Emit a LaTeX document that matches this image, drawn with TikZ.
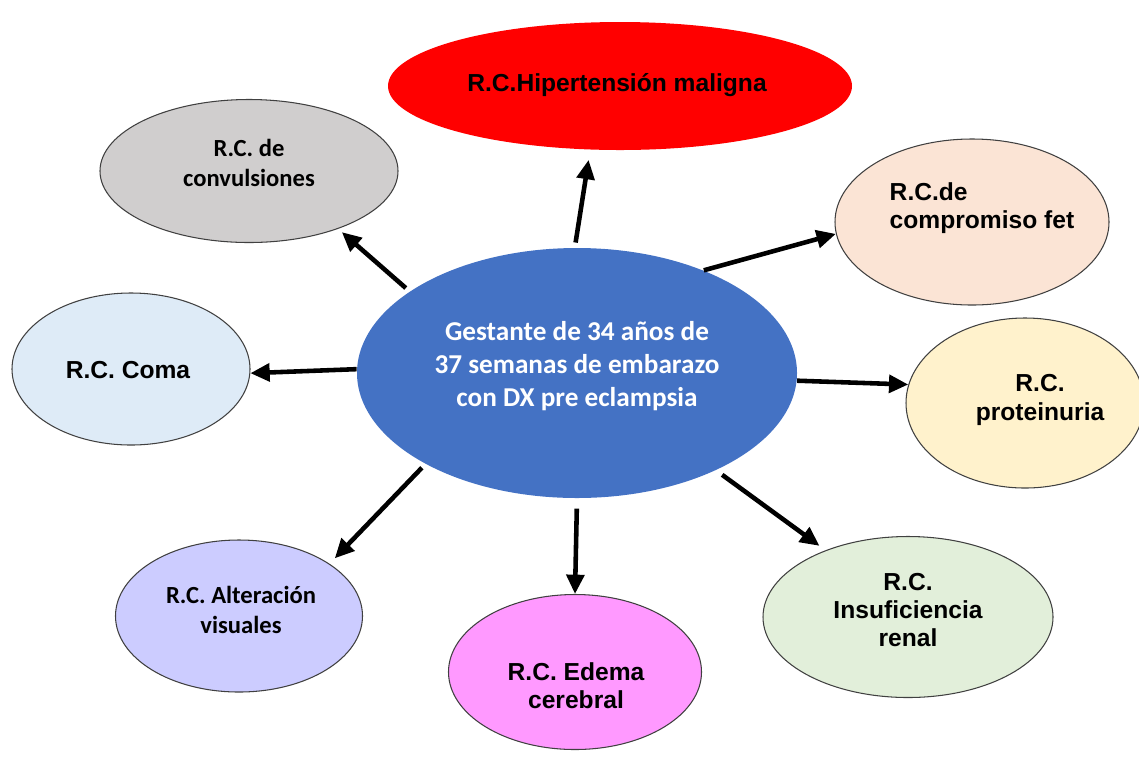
\documentclass[tikz,border=0pt]{standalone}
\usepackage{fontspec}
\setmainfont{Liberation Sans}
\newfontfamily\calibri{Carlito}
\usepackage{tikz}
\usetikzlibrary{shapes.geometric}
\usetikzlibrary{arrows.meta}
\definecolor{centreblue}{RGB}{68,114,196}
\definecolor{convgray}{RGB}{208,206,206}
\definecolor{fetpeach}{RGB}{251,228,213}
\definecolor{comablue}{RGB}{222,235,247}
\definecolor{protyellow}{RGB}{255,242,204}
\definecolor{renalgreen}{RGB}{226,239,218}
\definecolor{edemapink}{RGB}{255,153,255}
\definecolor{visualviolet}{RGB}{204,204,255}
\tikzset{
	bubblestyle/.style={ellipse,draw=black!75,line width=0.6pt,inner sep=0pt},
	textstyle/.style={align=center,inner sep=0pt,font=\bfseries\fontsize{14}{16}\selectfont},
	calibristyle/.style={textstyle,font=\calibri\bfseries\fontsize{14}{17}\selectfont},
	centrestyle/.style={calibristyle,text=white,font=\calibri\bfseries\fontsize{15.5}{18.7}\selectfont},
	linkstyle/.style={-{Triangle[length=11pt,width=10pt]},line width=2.6pt}
}
\begin{document}
\begin{tikzpicture}[x=0.2mm,y=-0.2mm]
	\useasboundingbox (0,0) rectangle (1139,761);
	% ellipses
	\node[bubblestyle,draw=none,fill=centreblue,minimum width=88mm,minimum height=50mm] (gest) at (577,373) {};
	\node[bubblestyle,draw=none,fill=red,minimum width=92.8mm,minimum height=25.6mm] (hip) at (620,86) {};
	\node[bubblestyle,fill=convgray,minimum width=59.6mm,minimum height=28.6mm] (conv) at (249,171) {};
	\node[bubblestyle,fill=fetpeach,minimum width=54.8mm,minimum height=33.2mm] (fet) at (972,222) {};
	\node[bubblestyle,fill=comablue,minimum width=47.6mm,minimum height=30.4mm] (coma) at (131,369) {};
	\node[bubblestyle,fill=protyellow,minimum width=47.6mm,minimum height=34mm] (prot) at (1025,403) {};
	\node[bubblestyle,fill=renalgreen,minimum width=58mm,minimum height=32.2mm] (renal) at (908,617) {};
	\node[bubblestyle,fill=edemapink,minimum width=50.6mm,minimum height=31mm] (edema) at (575,672) {};
	\node[bubblestyle,fill=visualviolet,minimum width=49.4mm,minimum height=30.4mm] (vis) at (239,616) {};
	% texts
	\node[centrestyle] (gesttext) at (577,366) {Gestante de 34 años de\\37 semanas de embarazo\\con DX pre eclampsia};
	\node[textstyle] (hiptext) at (617,85) {R.C.Hipertensión maligna};
	\node[calibristyle] (convtext) at (249,163) {R.C. de\\convulsiones};
	\node[textstyle,align=left] (fettext) at (982,208) {R.C.de\\compromiso fet};
	\node[textstyle] (comatext) at (128,370) {R.C. Coma};
	\node[textstyle] (prottext) at (1040,400) {R.C.\\proteinuria};
	\node[textstyle] (renaltext) at (908,610) {R.C.\\Insuficiencia\\renal};
	\node[textstyle] (edematext) at (576,686) {R.C. Edema\\cerebral};
	\node[calibristyle] (vistext) at (241,610) {R.C. Alteración\\visuales};
	% arrows
	\draw[linkstyle,shorten <=1mm,shorten >=2mm] (gest.91) -- (hip.245);
	\draw[linkstyle,shorten <=1mm,shorten >=1mm] (gest.154) -- (conv.327);
	\draw[linkstyle] (gest.179) -- (coma.358);
	\draw[linkstyle] (gest.39) -- (fet.185);
	\draw[linkstyle] (gest.358) -- (prot.171);
	\draw[linkstyle,shorten <=1.5mm,shorten >=1.5mm] (gest.325) -- (renal.141);
	\draw[linkstyle,shorten <=2mm] (gest.270) -- (edema.90);
	\draw[linkstyle,shorten <=1mm,shorten >=1.5mm] (gest.211) -- (vis.30);
\end{tikzpicture}
\end{document}
